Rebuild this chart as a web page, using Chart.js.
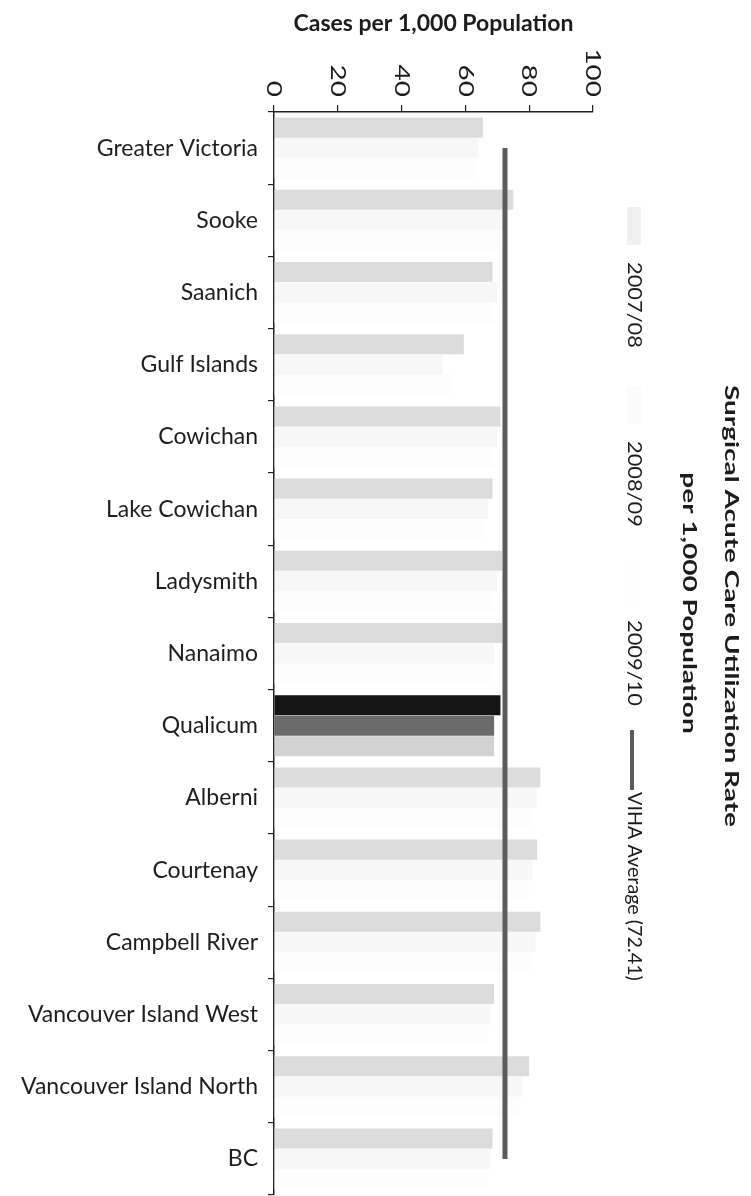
<!DOCTYPE html>
<html><head><meta charset="utf-8">
<script src="https://cdn.jsdelivr.net/npm/chart.js@4.4.1/dist/chart.umd.min.js"></script>
<style>html,body{margin:0;padding:0;background:#fff;}canvas{display:block;}</style>
</head><body>
<canvas id="c" width="751" height="1196"></canvas>
<script>
const categories = ['Greater Victoria','Sooke','Saanich','Gulf Islands','Cowichan','Lake Cowichan','Ladysmith','Nanaimo','Qualicum','Alberni','Courtenay','Campbell River','Vancouver Island West','Vancouver Island North','BC'];
const seriesNames = ['2007/08','2008/09','2009/10'];
const rate0708 = [65.5, 75, 68.5, 59.5, 71, 68.5, 71.5, 71.5, 71, 83.5, 82.5, 83.5, 69, 80, 68.5];
const rate0809 = [64, 72, 70, 53, 70, 67, 70, 69, 69, 82.5, 81, 82, 68, 78, 68];
const rate0910 = [63, 71, 69, 56, 69, 66, 69, 68, 69, 81, 80, 81, 67, 77, 67];
const vihaAverage = [72.41, 72.41, 72.41, 72.41, 72.41, 72.41, 72.41, 72.41, 72.41, 72.41, 72.41, 72.41, 72.41, 72.41, 72.41];
const vihaLabel = 'VIHA Average (72.41)';
const xTickValues = [0, 20, 40, 60, 80, 100];
const chartTitle = ['Surgical Acute Care Utilization Rate', 'per 1,000 Population'];
const axisTitle = 'Cases per 1,000 Population';
const highlighted = 'Qualicum';

const barColors = [
  {normal:'#dcdcdc', hi:'#151515', legend:'#f0f0f0'},
  {normal:'#f7f7f7', hi:'#6b6b6b', legend:'#fbfbfb'},
  {normal:'#fdfdfd', hi:'#d2d2d2', legend:'#fefefe'}
];
const hiIndex = categories.indexOf(highlighted);
const seriesData = [rate0708, rate0809, rate0910];

function rotText(ctx, text, x, y, align, font, sx){
  ctx.save();
  ctx.translate(x, y);
  ctx.rotate(Math.PI/2);
  ctx.scale(sx || 1, 1);
  ctx.font = font;
  ctx.textAlign = align;
  ctx.textBaseline = 'middle';
  ctx.fillText(text, 0, 0);
  ctx.restore();
}

const decor = {
  id:'decor',
  afterDraw(chart){
    const ctx = chart.ctx;
    const xs = chart.scales.x;
    ctx.save();
    ctx.fillStyle = '#1c1c1c';
    // axis title
    ctx.font = 'bold 23px Lato';
    ctx.textAlign = 'center';
    ctx.textBaseline = 'middle';
    ctx.fillText(axisTitle, (chart.chartArea.left + chart.chartArea.right)/2, 24);
    // x tick labels rotated
    xTickValues.forEach(v => {
      rotText(ctx, String(v), xs.getPixelForValue(v), 97, 'right', '21px Lato', 1.33);
    });
    // legend
    const legendX = 634;
    const legendSlots = [207, 386, 565];
    chart.data.datasets.forEach(ds => {
      if (ds.type === 'line') return;
      const k = seriesNames.indexOf(ds.label);
      const top = legendSlots[k];
      ctx.fillStyle = barColors[k].legend;
      ctx.fillRect(legendX - 7, top, 14, 38);
      ctx.fillStyle = '#1c1c1c';
      rotText(ctx, ds.label, legendX, top + 55, 'left', '19px Lato', 1.15);
    });
    const lineDs = chart.data.datasets.find(d => d.type === 'line');
    ctx.strokeStyle = lineDs.borderColor;
    ctx.lineWidth = 4;
    ctx.beginPath();
    ctx.moveTo(legendX - 2, 730);
    ctx.lineTo(legendX - 2, 790);
    ctx.stroke();
    ctx.fillStyle = '#1c1c1c';
    rotText(ctx, lineDs.label, legendX, 792, 'left', '19px Lato', 1.04);
    // chart title, stretched along the text to the reference length
    ctx.font = 'bold 18px Lato';
    const sx = 442 / ctx.measureText(chartTitle[0]).width;
    rotText(ctx, chartTitle[0], 731, 606, 'center', 'bold 18px Lato', sx);
    rotText(ctx, chartTitle[1], 689, 603, 'center', 'bold 18px Lato', sx);
    ctx.restore();
  }
};

const datasets = [
  {type:'line', label:vihaLabel, data:vihaAverage, borderColor:'#5c5c5c', borderWidth:5, pointRadius:0, fill:false, order:0}
];
seriesNames.forEach((name, k) => {
  datasets.push({
    type:'bar', label:name, data:seriesData[k], order:1,
    backgroundColor: c => c.dataIndex === hiIndex ? barColors[k].hi : barColors[k].normal,
    borderWidth:0
  });
});

new Chart(document.getElementById('c'), {
  type:'bar',
  data:{labels:categories, datasets},
  options:{
    responsive:false, animation:false, devicePixelRatio:1, indexAxis:'y',
    layout:{autoPadding:false, padding:{left:0, top:0, right:158, bottom:1}},
    datasets:{bar:{categoryPercentage:0.85, barPercentage:0.98}},
    plugins:{legend:{display:false}, tooltip:{enabled:false}, title:{display:false}},
    scales:{
      x:{position:'top', min:0, max:100,
         ticks:{display:false, stepSize:20},
         grid:{drawOnChartArea:false, drawTicks:true, tickLength:7, color:'#222', lineWidth:1.2},
         border:{display:true, color:'#222', width:1.5},
         afterFit(s){ s.height = 112; s.paddingLeft = 0; s.paddingRight = 0; }},
      y:{ticks:{font:{family:'Lato', size:23}, color:'#1e1e1e', padding:10},
         grid:{drawOnChartArea:false, tickLength:6, color:'#222', offset:true, lineWidth:1.2},
         border:{color:'#222', width:1.5},
         afterFit(s){ s.width = 274; s.paddingTop = 0; s.paddingBottom = 0; }}
    }
  },
  plugins:[decor]
});
</script>
</body></html>
